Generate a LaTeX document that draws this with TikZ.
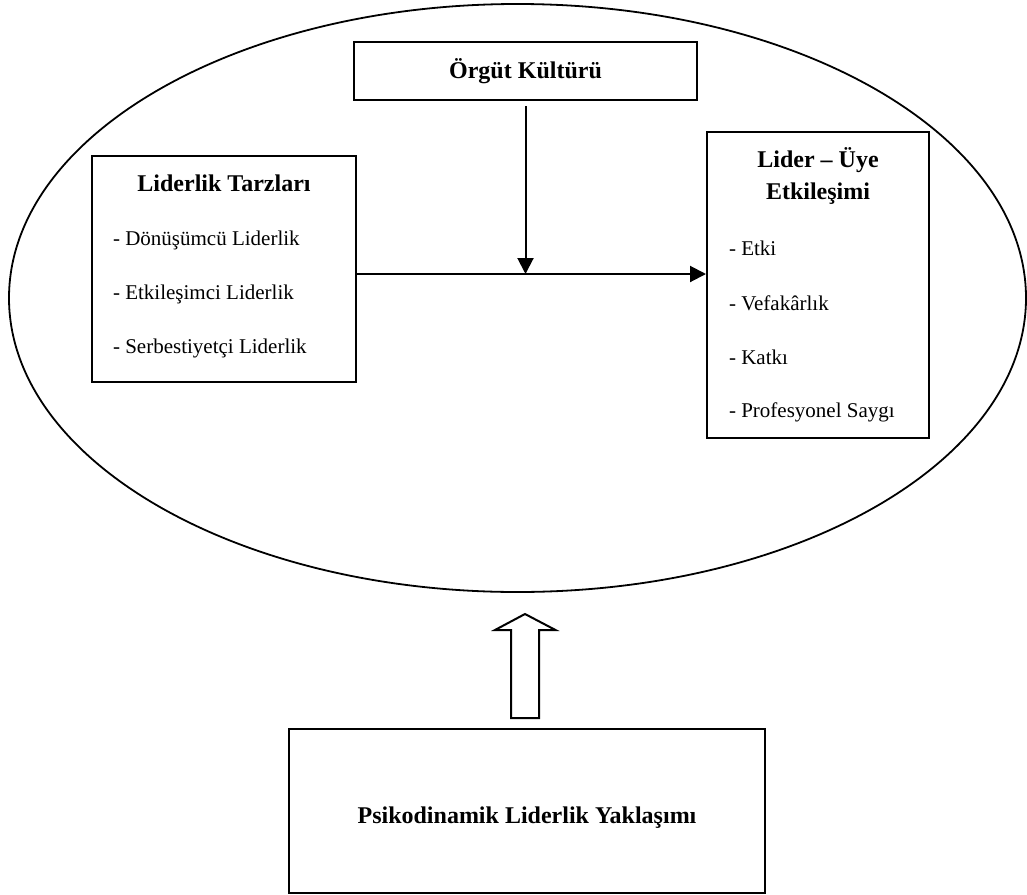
\documentclass[tikz,border=0pt]{standalone}
\usepackage{fontspec}
\setmainfont{Liberation Serif}
\usetikzlibrary{positioning,fit,calc,arrows.meta}

\begin{document}
\begin{tikzpicture}[x=0.5pt, y=-0.5pt,
box/.style={draw, line width=1pt, inner sep=0pt},
head/.style={font=\bfseries\fontsize{12}{16}\selectfont, align=center},
item/.style={anchor=west, font=\fontsize{10.5}{12}\selectfont},
conn/.style={line width=1pt, -{Triangle[length=8pt, width=8pt]}}]

\useasboundingbox (0,0) rectangle (1027,894);

\draw[line width=.9pt] (517.5,298) ellipse [x radius=508.5, y radius=294];

% boxes
\node[box, fit={(354,42) (697,100)}] (orgut) {};
\node[box, fit={(92,156) (356,382)}] (tarz) {};
\node[box, fit={(707,132) (929,438)}] (lue) {};
\node[box, fit={(289,729) (765,893)}] (yakl) {};

% texts
\node[head] (orgutT) at (orgut.center) {Örgüt Kültürü};
\node[head] (tarzT) at (224,183) {Liderlik Tarzları};
\foreach \txt [count=\i] in {- Dönüşümcü Liderlik, - Etkileşimci Liderlik, - Serbestiyetçi Liderlik}
  \node[item] (tarz\i) at (106,186+54*\i) {\txt};
\node[head] (lueT) at (818,176) {Lider – Üye\\Etkileşimi};
\foreach \txt [count=\i] in {- Etki, - Vefakârlık, - Katkı, - Profesyonel Saygı}
  \node[item] (lue\i) at (722,193.5+54.7*\i) {\txt};
\node[head] (yaklT) at (527,818) {Psikodinamik Liderlik Yaklaşımı};

% connectors
\coordinate (hline) at ([yshift=-2.5pt]tarz.east);
\draw[conn] (hline) -- (hline -| lue.west);
\draw[conn] ([yshift=-2.5pt]orgut.south) -- (orgut.south |- hline);

% big arrow
\coordinate (tail) at (525,718);
\draw[line width=1pt] (tail) -- ++(-14,0) -- ++(0,-88) -- ++(-16,0) -- (525,614)
  -- ++(30.5,16) -- ++(-16.5,0) -- ++(0,88) -- cycle;

\end{tikzpicture}
\end{document}
